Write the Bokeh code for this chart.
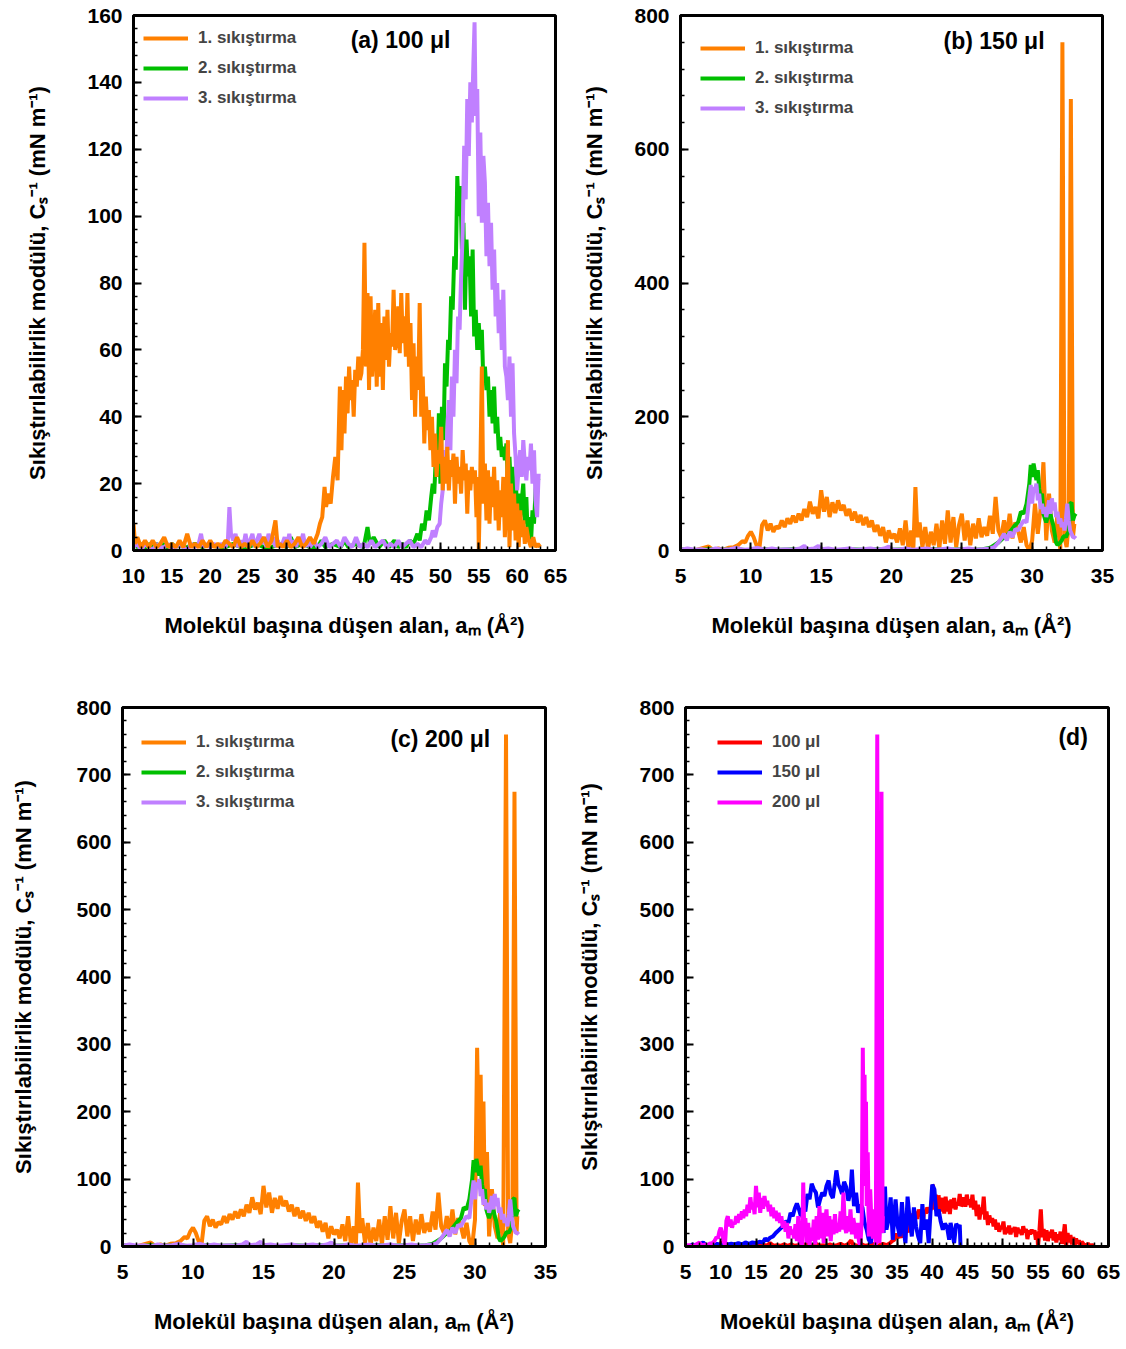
from bokeh.plotting import figure
from bokeh.models import Range1d, SingleIntervalTicker, Legend, LegendItem, Label
from bokeh.layouts import row, column
from bokeh.embed import file_html
from bokeh.resources import INLINE

FONT = "Liberation Sans"

# ---------------- data ----------------
# Panel (a) 100 ul : 1., 2., 3. sikistirma  (area per molecule, Cs^-1)
A_ORANGE = [(10.0, 8), (10.2, 2), (10.5, 4), (11.0, 1), (11.5, 3), (12.0, 1), (12.5, 3), (13.0, 1), (13.5, 2), (14.0, 4),
            (14.5, 1), (15.0, 2), (15.5, 1), (16.0, 3), (16.5, 1), (17.0, 5), (17.5, 1), (18.0, 2), (18.5, 1), (19.0, 3),
            (19.5, 1), (20.0, 3), (20.5, 1), (21.0, 2), (21.5, 1), (22.0, 3), (22.5, 2), (23.0, 1), (23.5, 4), (24.0, 1),
            (24.5, 2), (25.0, 1), (25.5, 3), (26.0, 1), (26.5, 2), (27.0, 4), (27.5, 1), (28.0, 3), (28.5, 9), (28.8, 1),
            (29.1, 2), (29.5, 1), (30.0, 3), (30.5, 1), (31.0, 2), (31.5, 4), (32.0, 1), (32.5, 2), (33.0, 4), (33.5, 2),
            (34.0, 5), (34.3, 8), (34.6, 10), (34.9, 19), (35.1, 13), (35.4, 17), (35.7, 14), (36.0, 22), (36.3, 28), (36.6, 21),
            (36.9, 49), (37.1, 30), (37.3, 48), (37.5, 35), (37.7, 52), (37.9, 41), (38.1, 55), (38.3, 45), (38.5, 51), (38.7, 40),
            (38.9, 54), (39.1, 49), (39.3, 58), (39.5, 51), (39.7, 53), (39.9, 60), (40.1, 92), (40.3, 55), (40.5, 77), (40.7, 48),
            (40.9, 76), (41.1, 52), (41.3, 62), (41.5, 72), (41.7, 49), (41.9, 74), (42.1, 52), (42.3, 68), (42.5, 48), (42.7, 70),
            (42.9, 57), (43.1, 72), (43.3, 55), (43.5, 65), (43.7, 61), (43.9, 78), (44.1, 60), (44.3, 63), (44.5, 73), (44.7, 59),
            (44.9, 77), (45.1, 62), (45.3, 70), (45.5, 58), (45.7, 77), (45.9, 55), (46.1, 68), (46.3, 45), (46.5, 62), (46.7, 40),
            (46.9, 58), (47.1, 48), (47.3, 74), (47.5, 40), (47.7, 52), (47.9, 32), (48.1, 46), (48.3, 36), (48.5, 42), (48.7, 30),
            (48.9, 40), (49.1, 25), (49.3, 35), (49.5, 22), (49.7, 30), (49.9, 26), (50.1, 37), (50.3, 18), (50.5, 28), (50.7, 20),
            (50.9, 31), (51.1, 18), (51.3, 27), (51.5, 22), (51.7, 29), (51.9, 14), (52.1, 28), (52.3, 20), (52.5, 25), (52.7, 17),
            (52.9, 30), (53.1, 21), (53.3, 26), (53.5, 11), (53.7, 24), (53.9, 18), (54.1, 25), (54.3, 20), (54.5, 24), (54.7, 10),
            (54.9, 22), (55.0, 0), (55.2, 23), (55.4, 55), (55.6, 14), (55.8, 26), (56.0, 9), (56.2, 24), (56.4, 8), (56.6, 22),
            (56.8, 13), (57.0, 25), (57.2, 9), (57.4, 21), (57.6, 6), (57.8, 18), (58.0, 10), (58.2, 22), (58.4, 4), (58.6, 15),
            (58.8, 33), (59.0, 1), (59.2, 20), (59.4, 6), (59.6, 17), (59.8, 3), (60.0, 14), (60.2, 1), (60.4, 12), (60.6, 4),
            (60.8, 9), (61.0, 2), (61.2, 7), (61.5, 3), (61.8, 1), (62.1, 4), (62.4, 1), (62.7, 2), (63.0, 1)]

A_GREEN = [(10.0, 2), (10.5, 1), (11.0, 2), (11.5, 0), (12.0, 2), (12.5, 1), (13.0, 2), (13.5, 1), (14.0, 2), (14.5, 0),
           (15.0, 2), (15.5, 1), (16.0, 2), (16.5, 1), (17.0, 1), (18.0, 2), (19.0, 1), (20.0, 2), (21.0, 1), (22.0, 1),
           (23.0, 2), (24.0, 1), (25.0, 1), (26.0, 2), (27.0, 1), (28.0, 1), (29.0, 2), (30.0, 1), (30.5, 4), (31.0, 1),
           (32.0, 2), (33.0, 1), (34.0, 1), (34.5, 3), (35.0, 1), (36.0, 2), (37.0, 1), (37.5, 3), (38.0, 1), (39.0, 2),
           (40.0, 1), (40.5, 7), (40.8, 2), (41.3, 4), (42.0, 1), (42.7, 3), (43.3, 1), (44.0, 3), (44.5, 1), (45.0, 2),
           (45.5, 1), (46.0, 3), (46.5, 2), (47.0, 5), (47.3, 3), (47.6, 8), (47.9, 6), (48.2, 12), (48.5, 9), (48.8, 16),
           (49.0, 20), (49.2, 17), (49.4, 28), (49.6, 22), (49.8, 41), (50.0, 20), (50.2, 43), (50.4, 33), (50.6, 56), (50.8, 49),
           (51.0, 63), (51.2, 60), (51.4, 76), (51.6, 72), (51.8, 88), (52.0, 84), (52.2, 112), (52.4, 100), (52.6, 109), (52.8, 90),
           (53.0, 98), (53.2, 72), (53.4, 93), (53.6, 82), (53.8, 88), (54.0, 70), (54.2, 90), (54.4, 64), (54.6, 72), (54.8, 60),
           (55.0, 68), (55.2, 60), (55.4, 66), (55.6, 50), (55.8, 55), (56.0, 48), (56.2, 52), (56.4, 40), (56.6, 48), (56.8, 38),
           (57.0, 49), (57.2, 35), (57.4, 40), (57.6, 30), (57.8, 34), (58.0, 28), (58.2, 31), (58.4, 27), (58.6, 32), (58.8, 20),
           (59.0, 28), (59.2, 18), (59.4, 25), (59.6, 14), (59.8, 22), (60.0, 12), (60.2, 17), (60.4, 10), (60.6, 15), (60.8, 20),
           (61.0, 8), (61.2, 16), (61.4, 3), (61.6, 10), (61.8, 2), (62.0, 12), (62.2, 8), (62.4, 18), (62.6, 22), (62.8, 21)]

A_PURPLE = [(10.0, 1), (10.5, 2), (11.0, 0), (11.5, 2), (12.0, 1), (12.5, 0), (13.0, 2), (13.5, 1), (14.0, 1), (14.5, 2),
            (15.0, 0), (15.5, 1), (16.0, 2), (16.5, 1), (17.0, 0), (17.5, 2), (18.0, 1), (18.5, 2), (18.8, 5), (19.1, 1),
            (19.5, 2), (20.0, 1), (20.5, 2), (21.0, 1), (21.5, 2), (22.0, 1), (22.3, 3), (22.5, 13), (22.7, 5), (23.0, 3),
            (23.3, 5), (23.6, 1), (24.0, 3), (24.3, 1), (24.6, 5), (24.9, 1), (25.2, 3), (25.5, 5), (25.8, 1), (26.1, 3),
            (26.4, 5), (26.7, 2), (27.0, 4), (27.3, 1), (27.6, 5), (27.9, 2), (28.2, 4), (28.5, 1), (28.8, 3), (29.1, 1),
            (29.4, 2), (29.7, 4), (30.0, 1), (30.3, 5), (30.6, 1), (30.9, 3), (31.2, 1), (31.5, 4), (31.8, 2), (32.1, 5),
            (32.4, 1), (32.7, 3), (33.0, 1), (33.5, 3), (34.0, 1), (34.5, 2), (35.0, 4), (35.5, 1), (36.0, 2), (36.5, 3),
            (37.0, 1), (37.5, 4), (38.0, 2), (38.5, 1), (39.0, 4), (39.5, 1), (40.0, 2), (40.5, 1), (41.0, 3), (41.5, 1),
            (42.0, 2), (42.5, 3), (43.0, 1), (43.5, 2), (44.0, 1), (44.5, 3), (45.0, 1), (45.5, 2), (46.0, 3), (46.5, 1),
            (47.0, 2), (47.5, 1), (48.0, 3), (48.4, 2), (48.8, 4), (49.0, 6), (49.3, 4), (49.6, 7), (49.9, 8), (50.1, 14),
            (50.3, 18), (50.5, 30), (50.7, 22), (50.9, 36), (51.1, 45), (51.3, 30), (51.5, 52), (51.7, 40), (51.9, 60), (52.1, 50),
            (52.3, 70), (52.5, 66), (52.7, 82), (52.9, 95), (53.1, 121), (53.3, 105), (53.5, 135), (53.7, 118), (53.9, 140), (54.1, 128),
            (54.3, 146), (54.45, 158), (54.6, 130), (54.8, 138), (55.0, 100), (55.2, 125), (55.4, 98), (55.6, 118), (55.8, 110), (56.0, 88),
            (56.2, 104), (56.4, 85), (56.6, 98), (56.8, 78), (57.0, 90), (57.2, 70), (57.4, 80), (57.6, 65), (57.8, 75), (58.0, 60),
            (58.2, 78), (58.4, 55), (58.6, 52), (58.8, 45), (59.0, 58), (59.2, 40), (59.4, 56), (59.6, 35), (59.8, 28), (60.0, 18),
            (60.2, 25), (60.4, 30), (60.6, 22), (60.8, 33), (61.0, 26), (61.2, 21), (61.4, 28), (61.6, 24), (61.8, 32), (62.0, 20),
            (62.2, 30), (62.4, 15), (62.6, 10), (62.8, 23)]

# Panel (b) 150 ul, 1. sikistirma
B_ORANGE = [(5.0, 1), (5.5, 2), (6.0, 0), (6.5, 3), (7.0, 6), (7.3, 1), (7.7, 3), (8.0, 1), (8.4, 4), (8.8, 5),
            (9.1, 8), (9.4, 14), (9.6, 12), (9.8, 22), (10.0, 28), (10.2, 20), (10.4, 8), (10.6, 2), (10.8, 38), (11.0, 45),
            (11.2, 30), (11.4, 40), (11.6, 28), (11.8, 36), (12.0, 33), (12.2, 45), (12.4, 35), (12.6, 48), (12.8, 40), (13.0, 52),
            (13.2, 42), (13.4, 55), (13.6, 45), (13.8, 62), (14.0, 50), (14.2, 73), (14.4, 55), (14.6, 65), (14.8, 48), (15.0, 90),
            (15.2, 58), (15.4, 80), (15.6, 50), (15.8, 72), (16.0, 56), (16.2, 75), (16.4, 60), (16.6, 68), (16.8, 52), (17.0, 62),
            (17.2, 45), (17.4, 58), (17.6, 42), (17.8, 53), (18.0, 38), (18.2, 50), (18.4, 35), (18.6, 45), (18.8, 28), (19.0, 38),
            (19.2, 22), (19.4, 35), (19.6, 12), (19.8, 30), (20.0, 18), (20.2, 25), (20.4, 12), (20.6, 33), (20.8, 8), (21.0, 45),
            (21.2, 3), (21.4, 30), (21.55, 0), (21.7, 95), (21.85, 20), (22.0, 42), (22.2, 5), (22.4, 35), (22.6, 2), (22.8, 28),
            (23.0, 8), (23.2, 40), (23.4, 3), (23.6, 45), (23.8, 10), (24.0, 60), (24.2, 12), (24.4, 50), (24.6, 5), (24.8, 38),
            (25.0, 55), (25.2, 15), (25.4, 45), (25.6, 8), (25.8, 40), (26.0, 18), (26.2, 48), (26.4, 20), (26.6, 35), (26.8, 22),
            (27.0, 52), (27.2, 25), (27.4, 80), (27.6, 30), (27.8, 20), (28.0, 45), (28.2, 22), (28.4, 55), (28.6, 18), (28.8, 42),
            (29.0, 30), (29.2, 12), (29.4, 35), (29.6, 8), (29.8, 0), (30.0, 15), (30.2, 70), (30.4, 25), (30.6, 62), (30.8, 132),
            (31.0, 15), (31.2, 85), (31.4, 30), (31.6, 12), (31.8, 55), (32.0, 0), (32.15, 760), (32.3, 20), (32.45, 5), (32.6, 40),
            (32.75, 675), (32.9, 20), (33.0, 40)]

# Panels (b) and (c): 2. and 3. sikistirma
BC_GREEN = [(5.0, 2), (6.0, 0), (7.0, 2), (8.0, 1), (9.0, 2), (10.0, 0), (11.0, 2), (12.0, 1), (13.0, 2), (14.0, 1),
            (15.0, 2), (16.0, 0), (17.0, 2), (18.0, 1), (19.0, 2), (20.0, 1), (21.0, 2), (22.0, 0), (23.0, 2), (24.0, 1),
            (25.0, 2), (26.0, 1), (26.5, 2), (27.0, 4), (27.3, 8), (27.6, 12), (27.9, 18), (28.2, 22), (28.5, 30), (28.8, 38),
            (29.0, 42), (29.2, 58), (29.4, 55), (29.6, 70), (29.8, 100), (29.9, 128), (30.0, 110), (30.1, 130), (30.2, 118), (30.3, 105),
            (30.4, 120), (30.5, 92), (30.6, 80), (30.7, 85), (30.8, 55), (30.9, 48), (31.0, 42), (31.1, 50), (31.2, 58), (31.3, 55),
            (31.4, 45), (31.5, 38), (31.6, 25), (31.7, 12), (31.8, 8), (31.9, 10), (32.0, 12), (32.1, 15), (32.2, 20), (32.3, 22),
            (32.4, 20), (32.5, 25), (32.6, 28), (32.7, 70), (32.8, 72), (32.9, 45), (33.0, 52), (33.1, 55)]

BC_PURPLE = [(5.0, 1), (5.5, 3), (6.0, 1), (6.5, 2), (7.0, 0), (7.5, 3), (8.0, 1), (8.5, 2), (9.0, 4), (9.5, 1),
             (10.0, 2), (10.5, 4), (11.0, 1), (11.5, 3), (12.0, 1), (12.5, 2), (13.0, 1), (13.5, 3), (13.8, 7), (14.0, 2),
             (14.5, 3), (14.8, 7), (15.0, 2), (15.5, 3), (16.0, 1), (16.5, 2), (17.0, 3), (17.5, 1), (18.0, 2), (18.5, 3),
             (19.0, 1), (19.5, 3), (19.8, 6), (20.0, 2), (20.5, 1), (21.0, 3), (21.5, 1), (22.0, 2), (22.5, 3), (23.0, 1),
             (23.5, 2), (24.0, 3), (24.5, 1), (25.0, 2), (25.5, 3), (26.0, 1), (26.5, 2), (27.0, 3), (27.3, 5), (27.6, 12),
             (27.8, 18), (28.0, 25), (28.2, 15), (28.4, 28), (28.6, 20), (28.8, 32), (29.0, 30), (29.2, 38), (29.4, 45), (29.6, 42),
             (29.8, 80), (29.9, 98), (30.0, 70), (30.1, 95), (30.2, 88), (30.3, 100), (30.4, 75), (30.5, 85), (30.6, 62), (30.7, 70),
             (30.8, 55), (30.9, 65), (31.0, 50), (31.1, 60), (31.2, 75), (31.3, 55), (31.4, 78), (31.5, 60), (31.6, 72), (31.7, 50),
             (31.8, 58), (31.9, 40), (32.0, 48), (32.1, 35), (32.2, 42), (32.3, 30), (32.4, 48), (32.5, 70), (32.6, 45), (32.7, 30),
             (32.8, 25), (32.9, 20), (33.0, 20), (33.1, 18)]

# Panel (c) 200 ul, 1. sikistirma (also the 200 ul curve of panel d)
C_ORANGE = [(5.0, 1), (5.5, 2), (6.0, 0), (6.5, 3), (7.0, 6), (7.3, 1), (7.7, 3), (8.0, 1), (8.4, 4), (8.8, 5),
            (9.1, 8), (9.4, 14), (9.6, 12), (9.8, 22), (10.0, 28), (10.2, 20), (10.4, 8), (10.6, 2), (10.8, 38), (11.0, 45),
            (11.2, 30), (11.4, 40), (11.6, 28), (11.8, 36), (12.0, 33), (12.2, 45), (12.4, 35), (12.6, 48), (12.8, 40), (13.0, 52),
            (13.2, 42), (13.4, 55), (13.6, 45), (13.8, 62), (14.0, 50), (14.2, 73), (14.4, 55), (14.6, 65), (14.8, 48), (15.0, 90),
            (15.2, 58), (15.4, 80), (15.6, 50), (15.8, 72), (16.0, 56), (16.2, 75), (16.4, 60), (16.6, 68), (16.8, 52), (17.0, 62),
            (17.2, 45), (17.4, 58), (17.6, 42), (17.8, 53), (18.0, 38), (18.2, 50), (18.4, 35), (18.6, 45), (18.8, 28), (19.0, 38),
            (19.2, 22), (19.4, 35), (19.6, 12), (19.8, 30), (20.0, 18), (20.2, 25), (20.4, 12), (20.6, 33), (20.8, 8), (21.0, 45),
            (21.2, 3), (21.4, 30), (21.55, 0), (21.7, 95), (21.85, 20), (22.0, 42), (22.2, 5), (22.4, 35), (22.6, 2), (22.8, 28),
            (23.0, 8), (23.2, 40), (23.4, 3), (23.6, 45), (23.8, 10), (24.0, 60), (24.2, 12), (24.4, 50), (24.6, 5), (24.8, 38),
            (25.0, 55), (25.2, 15), (25.4, 45), (25.6, 8), (25.8, 40), (26.0, 18), (26.2, 48), (26.4, 20), (26.6, 35), (26.8, 22),
            (27.0, 52), (27.2, 25), (27.4, 80), (27.6, 30), (27.8, 20), (28.0, 45), (28.2, 22), (28.4, 55), (28.6, 18), (28.8, 42),
            (29.0, 30), (29.2, 12), (29.4, 35), (29.6, 8), (29.8, 0), (30.0, 40), (30.15, 295), (30.3, 120), (30.4, 255), (30.5, 90),
            (30.6, 215), (30.7, 60), (30.85, 140), (31.0, 15), (31.2, 85), (31.4, 30), (31.6, 12), (31.8, 55), (32.0, 0), (32.2, 760),
            (32.35, 20), (32.5, 5), (32.65, 40), (32.8, 675), (32.95, 20), (33.0, 45)]

# Panel (d) 150 ul curve
D_BLUE = [(5.0, 2), (5.5, 0), (6.0, 3), (6.5, 1), (7.0, 2), (7.5, 6), (8.0, 1), (8.5, 3), (9.0, 2), (9.5, 4),
          (10.0, 2), (10.5, 5), (11.0, 3), (11.5, 4), (12.0, 3), (12.5, 5), (13.0, 3), (13.5, 6), (14.0, 4), (14.5, 6),
          (15.0, 5), (15.5, 7), (16.0, 6), (16.3, 12), (16.6, 9), (17.0, 13), (17.4, 15), (17.8, 20), (18.2, 24), (18.6, 28),
          (19.0, 32), (19.3, 38), (19.6, 35), (19.9, 50), (20.2, 45), (20.5, 56), (20.8, 64), (21.1, 55), (21.4, 44), (21.7, 60),
          (22.0, 52), (22.3, 78), (22.6, 70), (22.9, 93), (23.2, 85), (23.5, 80), (23.8, 58), (24.1, 70), (24.4, 80), (24.7, 75),
          (25.0, 90), (25.3, 98), (25.6, 78), (25.9, 72), (26.2, 95), (26.4, 113), (26.7, 92), (27.0, 85), (27.2, 78), (27.5, 96),
          (27.8, 88), (28.1, 68), (28.4, 80), (28.6, 114), (28.9, 60), (29.2, 80), (29.5, 50), (29.8, 62), (30.1, 58), (30.4, 35),
          (30.7, 25), (31.0, 10), (31.3, 5), (31.6, 34), (31.9, 20), (32.2, 45), (32.5, 30), (32.8, 55), (33.1, 20), (33.3, 89),
          (33.5, 25), (33.8, 40), (34.1, 73), (34.4, 10), (34.6, 45), (34.8, 70), (35.1, 30), (35.4, 15), (35.7, 66), (36.0, 20),
          (36.2, 5), (36.5, 74), (36.8, 40), (37.1, 15), (37.4, 58), (37.7, 30), (38.0, 15), (38.3, 5), (38.6, 63), (38.9, 25),
          (39.2, 40), (39.5, 5), (39.8, 60), (40.0, 92), (40.3, 85), (40.6, 45), (40.9, 55), (41.2, 37), (41.5, 25), (41.8, 34),
          (42.1, 29), (42.4, 10), (42.6, 35), (42.9, 20), (43.1, 5), (43.4, 34), (43.7, 28), (43.9, 32), (44.0, 2)]

LEG_ABC = ["1. sıkıştırma", "2. sıkıştırma", "3. sıkıştırma"]
LEG_D = ["100 μl", "150 μl", "200 μl"]
TITLES = ["(a) 100 μl", "(b) 150 μl", "(c) 200 μl", "(d)"]

XLAB = "Molekül başına düşen alan, aₘ (Å²)"
XLAB_D = "Moekül başına düşen alan, aₘ (Å²)"
YLAB = "Sıkıştırılabilirlik modülü, Cₛ⁻¹ (mN m⁻¹)"
YLAB_D = "Sıkıştırılabiirlik modülü, Cₛ⁻¹ (mN m⁻¹)"

ORANGE, GREEN, PURPLE = "#FF8000", "#00BF00", "#C080FF"
RED, BLUE, MAGENTA = "#FF0000", "#0000FF", "#FF00FF"


def xs(d):
    return [p[0] for p in d]


def ys(d):
    return [p[1] for p in d]


def make_fig(w, h, bl, br, bt, bb, xr, yr, xint, yint, xlab, ylab, ystand):
    p = figure(width=w, height=h, x_range=Range1d(*xr), y_range=Range1d(*yr),
               output_backend="svg", toolbar_location=None,
               min_border_left=bl, min_border_right=br, min_border_top=bt, min_border_bottom=bb)
    p.grid.visible = False
    p.outline_line_color = "black"
    p.outline_line_width = 3
    p.outline_line_alpha = 1
    p.background_fill_color = "white"
    p.border_fill_color = "white"
    p.xaxis.ticker = SingleIntervalTicker(interval=xint, num_minor_ticks=5)
    p.yaxis.ticker = SingleIntervalTicker(interval=yint, num_minor_ticks=5)
    for ax in (p.xaxis[0], p.yaxis[0]):
        ax.axis_line_width = 3
        ax.axis_line_color = "black"
        ax.major_tick_in = 8
        ax.major_tick_out = 0
        ax.minor_tick_in = 4
        ax.minor_tick_out = 0
        ax.major_tick_line_width = 2
        ax.minor_tick_line_width = 1.5
        ax.major_label_text_font = FONT
        ax.major_label_text_font_style = "bold"
        ax.major_label_text_font_size = "21px"
        ax.major_label_text_color = "black"
        ax.axis_label_text_font = FONT
        ax.axis_label_text_font_style = "bold"
        ax.axis_label_text_font_size = "22px"
        ax.axis_label_text_color = "black"
    p.xaxis[0].major_label_standoff = 18
    p.xaxis[0].axis_label_standoff = 27
    p.yaxis[0].major_label_standoff = 11
    p.yaxis[0].axis_label_standoff = ystand
    p.xaxis[0].axis_label = xlab
    p.yaxis[0].axis_label = ylab
    return p


def add_legend(p, renderers, labels, x, y):
    items = [LegendItem(label=l, renderers=[r]) for l, r in zip(labels, renderers)]
    leg = Legend(items=items, location=(x, y), border_line_color=None, background_fill_alpha=0,
                 label_text_font=FONT, label_text_font_style="bold", label_text_font_size="17px",
                 glyph_width=45, glyph_height=20, label_height=20, spacing=10, padding=0, margin=0,
                 label_standoff=10)
    p.add_layout(leg)


def add_title(p, text, x, y):
    p.add_layout(Label(x=x, y=y, text=text, text_font=FONT, text_font_style="bold",
                       text_font_size="23px", text_baseline="middle", text_color="black"))


LW = 4

# (a)
pa = make_fig(570, 660, 133, 15, 10, 110, (10, 65), (0, 160), 5, 20, XLAB, YLAB, 34)
ra2 = pa.line(xs(A_GREEN), ys(A_GREEN), line_color=GREEN, line_width=LW)
ra3 = pa.line(xs(A_PURPLE), ys(A_PURPLE), line_color=PURPLE, line_width=LW)
ra1 = pa.line(xs(A_ORANGE), ys(A_ORANGE), line_color=ORANGE, line_width=LW)
add_legend(pa, [ra1, ra2, ra3], LEG_ABC, 10, 442)
add_title(pa, TITLES[0], 38.3, 152.6)

# (b)
pb = make_fig(556, 660, 110, 24, 15, 103, (5, 35), (0, 800), 5, 200, XLAB, YLAB, 24)
rb1 = pb.line(xs(B_ORANGE), ys(B_ORANGE), line_color=ORANGE, line_width=LW)
rb2 = pb.line(xs(BC_GREEN), ys(BC_GREEN), line_color=GREEN, line_width=LW)
rb3 = pb.line(xs(BC_PURPLE), ys(BC_PURPLE), line_color=PURPLE, line_width=LW)
add_legend(pb, [rb1, rb2, rb3], LEG_ABC, 20, 432)
add_title(pb, TITLES[1], 23.7, 761.6)

# (c)
pc = make_fig(570, 689, 122, 25, 44, 103, (5, 35), (0, 800), 5, 100, XLAB, YLAB, 37)
rc1 = pc.line(xs(C_ORANGE), ys(C_ORANGE), line_color=ORANGE, line_width=LW)
rc2 = pc.line(xs(BC_GREEN), ys(BC_GREEN), line_color=GREEN, line_width=LW)
rc3 = pc.line(xs(BC_PURPLE), ys(BC_PURPLE), line_color=PURPLE, line_width=LW)
add_legend(pc, [rc1, rc2, rc3], LEG_ABC, 19, 434)
add_title(pc, TITLES[2], 24.0, 752.8)

# (d)
pd_ = make_fig(556, 689, 115, 18, 47, 100, (5, 65), (0, 800), 5, 100, XLAB_D, YLAB_D, 34)
rd1 = pd_.line(xs(A_ORANGE), ys(A_ORANGE), line_color=RED, line_width=LW)
rd2 = pd_.line(xs(D_BLUE), ys(D_BLUE), line_color=BLUE, line_width=LW)
rd3 = pd_.line(xs(C_ORANGE), ys(C_ORANGE), line_color=MAGENTA, line_width=LW)
add_legend(pd_, [rd1, rd2, rd3], LEG_D, 32, 434)
add_title(pd_, TITLES[3], 57.9, 755.7)

layout = column(row(pa, pb), row(pc, pd_))

with open("out.html", "w") as f:
    f.write(file_html(layout, INLINE, "Sıkıştırılabilirlik modülü"))
